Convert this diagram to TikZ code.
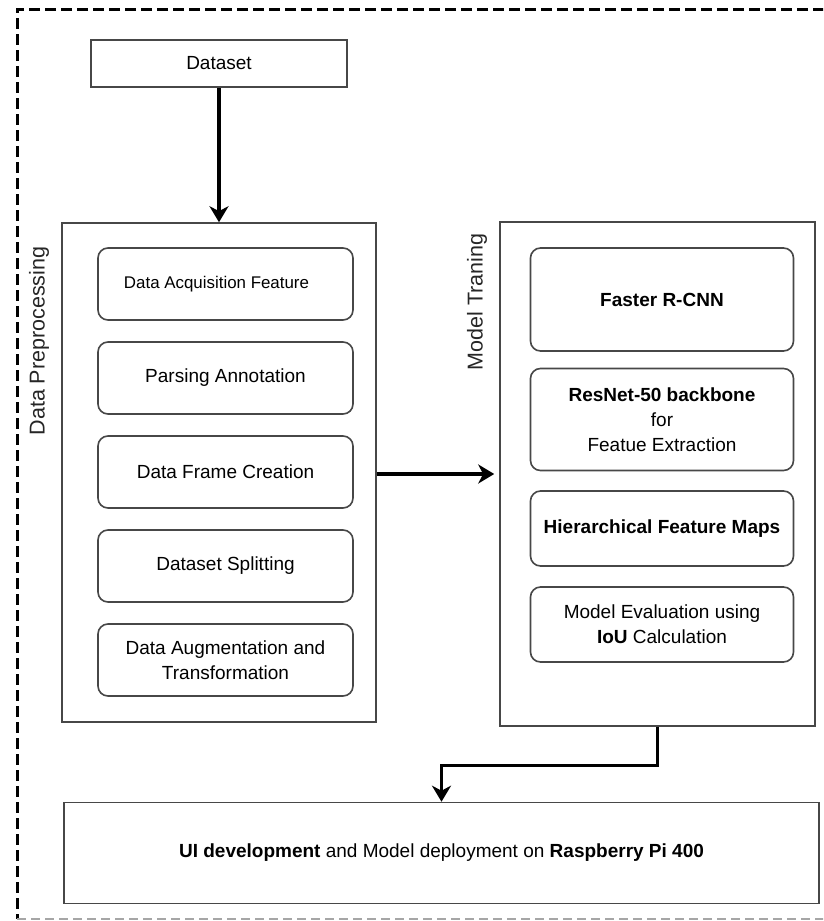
\documentclass[tikz,border=0pt]{standalone}
\usepackage{fontspec}
\setmainfont{Liberation Sans}
\usetikzlibrary{arrows.meta}
\definecolor{edge}{HTML}{474747}
\tikzset{
  x=1pt, y=-1pt,
  txt/.style={font=\fontsize{19}{25}\selectfont},
  frame/.style={draw=edge, line width=1.6pt, inner sep=0pt, align=center, txt},
  stage/.style={frame, rounded corners=10pt},
  flow/.style={line width=3.3pt, -{Stealth[length=16pt,width=19pt,inset=5pt]}},
  sidelabel/.style={rotate=90, font=\fontsize{21.5}{26}\selectfont, text=black!85},
}
\begin{document}
\begin{tikzpicture}
\useasboundingbox (0,0) rectangle (823,921);
\clip (0,0) rectangle (823,921);
\fill[white] (0,0) rectangle (823,921);

% outer dashed frame
\draw[line width=3pt, dash pattern=on 11pt off 5pt] (840,9) -- (17,9) -- (17,919);
\draw[gray!70, line width=1.8pt, dash pattern=on 9pt off 5pt] (17,919) -- (840,919);

% source
\node[frame, minimum width=256pt, minimum height=47pt] (dataset) at (219,63.5) {Dataset};

% preprocessing stage
\node[frame, minimum width=314pt, minimum height=499pt] (prep) at (219,472.5) {};
\node[sidelabel] (preplbl) at (39,341) {Data Preprocessing};
\node[stage, minimum width=255pt, minimum height=72pt, font=\fontsize{16.9}{22}\selectfont] (acq) at (225.5,284) {\hspace*{-18pt}Data Acquisition Feature};
\node[stage, minimum width=255pt, minimum height=72pt] (parse) at (225.5,378) {Parsing Annotation};
\node[stage, minimum width=255pt, minimum height=72pt] (frame) at (225.5,472) {Data Frame Creation};
\node[stage, minimum width=255pt, minimum height=72pt] (split) at (225.5,566) {Dataset Splitting};
\node[stage, minimum width=255pt, minimum height=72pt] (aug) at (225.5,660) {Data Augmentation and\\Transformation};

% training stage
\node[frame, minimum width=315pt, minimum height=504pt] (train) at (657.5,474) {};
\node[sidelabel] (trainlbl) at (477,302) {Model Traning};
\node[stage, minimum width=263pt, minimum height=103pt] (frcnn) at (662,299.5) {\textbf{Faster R-CNN}};
\node[stage, minimum width=263pt, minimum height=102pt] (resnet) at (662,419.5) {\textbf{ResNet-50 backbone}\\for\\Featue Extraction};
\node[stage, minimum width=263pt, minimum height=75pt] (maps) at (662,528.5) {\textbf{Hierarchical Feature Maps}};
\node[stage, minimum width=263pt, minimum height=75pt] (eval) at (662,624.5) {Model Evaluation using\\\textbf{IoU} Calculation};

% deployment
\node[frame, minimum width=755pt, minimum height=101pt] (deploy) at (441.5,853) {\textbf{UI development} and Model deployment on \textbf{Raspberry Pi 400}};

% connectors
\draw[flow] (dataset.south) -- (dataset.south |- prep.north);
\draw[flow, shorten >=5pt] (prep.east |- 0,474) -- (train.west |- 0,474);
\draw[flow] (train.south) -- ++(0,39) -| (deploy.north);
\end{tikzpicture}
\end{document}
